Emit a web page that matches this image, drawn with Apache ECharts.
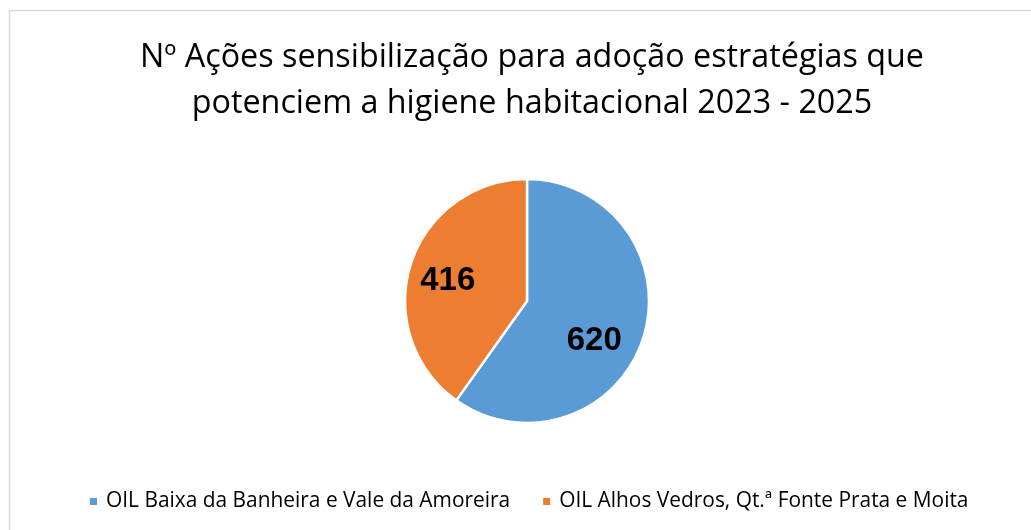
<!DOCTYPE html>
<html>
<head>
<meta charset="utf-8">
<script src="https://cdn.jsdelivr.net/npm/echarts@6/dist/echarts.min.js"></script>
<style>
  html, body { margin: 0; padding: 0; background: #fff; }
  #myChart { width: 1031px; height: 530px; }
</style>
</head>
<body>
<div id="myChart"></div>
<script>
// 数据
const titleText = 'Nº Ações sensibilização para adoção estratégias que\npotenciem a higiene habitacional 2023 - 2025'
const categories = ['OIL Baixa da Banheira e Vale da Amoreira', 'OIL Alhos Vedros, Qt.ª Fonte Prata e Moita']
const values = [620, 416]
const colors = ['#5B9BD5', '#ED7D31']

const FONT = '"Open Sans", "Noto Sans", sans-serif'
const pieCenter = [527, 301]
const pieRadius = 122

let myChart = echarts.init(document.getElementById('myChart'))

let option = {
  color: colors,
  animation: false,
  /*边框*/
  graphic: [
    {
      type: 'rect',
      shape: { x: 9.5, y: 10.5, width: 1100, height: 600 },
      style: { fill: 'none', stroke: '#D9D9D9', lineWidth: 1.5 },
      silent: true,
    },
  ],
  title: {
    text: titleText,
    left: 527,
    top: 30,
    textAlign: 'center',
    textStyle: {
      color: '#000',
      fontFamily: FONT,
      fontWeight: 'normal',
      fontSize: 32.3,
      lineHeight: 46,
    },
  },
  legend: {
    left: 88,
    top: 491,
    padding: 0,
    icon: 'rect',
    itemWidth: 9,
    itemHeight: 9,
    itemGap: 31,
    textStyle: {
      color: '#000',
      fontFamily: FONT,
      fontSize: 20.9,
      padding: [0, 0, 0, 3],
    },
    data: categories,
  },
  series: [
    {
      type: 'pie',
      center: pieCenter,
      radius: [0, pieRadius],
      startAngle: 90,
      clockwise: true,
      itemStyle: {
        borderColor: '#fff',
        borderWidth: 2.5,
      },
      label: {
        show: true,
        position: 'inside',
        formatter: '{c}',
        color: '#000',
        fontFamily: '"Liberation Sans", Arial, sans-serif',
        fontWeight: 'bold',
        fontSize: 33,
      },
      // 标签向外推一点，接近原图位置
      labelLayout: function (params) {
        const r = params.labelRect
        const cx = r.x + r.width / 2
        const cy = r.y + r.height / 2
        const k = 1.3
        return {
          dx: (cx - pieCenter[0]) * (k - 1) + (params.dataIndex === 0 ? -12 : 0),
          dy: (cy - pieCenter[1]) * (k - 1) + 5 + (params.dataIndex === 0 ? 10 : 0),
        }
      },
      emphasis: { disabled: true },
      data: categories.map((name, i) => ({ name: name, value: values[i] })),
    },
  ],
}

myChart.setOption(option, true)
</script>
</body>
</html>
